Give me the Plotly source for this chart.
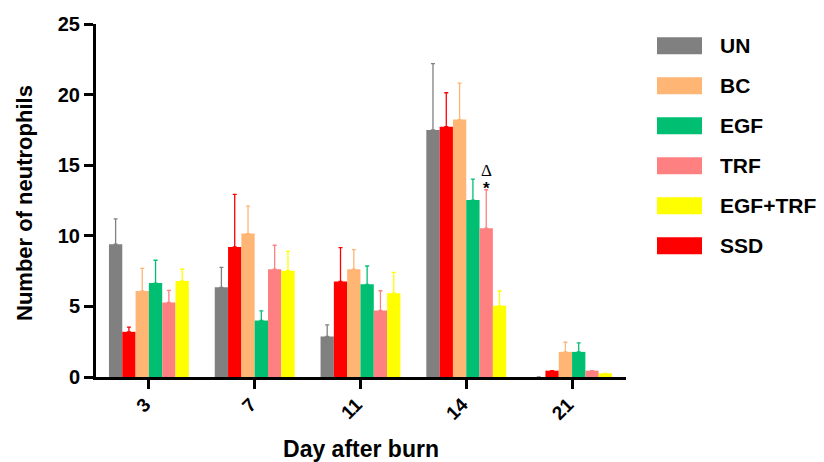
import plotly.graph_objects as go

days = ["3", "7", "11", "14", "21"]
series_names = ["UN", "SSD", "BC", "EGF", "TRF", "EGF+TRF"]
legend_order = ["UN", "BC", "EGF", "TRF", "EGF+TRF", "SSD"]

un = [9.40, 6.35, 2.87, 17.50, 0.0]
ssd = [3.20, 9.21, 6.77, 17.73, 0.45]
bc = [6.09, 10.16, 7.63, 18.23, 1.78]
egf = [6.65, 4.00, 6.56, 12.53, 1.78]
trf = [5.28, 7.63, 4.71, 10.54, 0.45]
egf_trf = [6.80, 7.53, 5.94, 5.04, 0.26]

un_err = [1.80, 1.42, 0.82, 4.70, None]
ssd_err = [0.33, 3.72, 2.39, 2.40, None]
bc_err = [1.61, 1.94, 1.39, 2.58, 0.68]
egf_err = [1.62, 0.69, 1.30, 1.49, 0.63]
trf_err = [0.86, 1.70, 1.40, 2.72, None]
egf_trf_err = [0.83, 1.37, 1.47, 1.05, None]

values = [un, ssd, bc, egf, trf, egf_trf]
errors = [un_err, ssd_err, bc_err, egf_err, trf_err, egf_trf_err]
colors = {"UN": "#808080", "SSD": "#FF0000", "BC": "#FFB574",
          "EGF": "#00BF72", "TRF": "#FF8080", "EGF+TRF": "#FFFF00"}

FONT = "Liberation Sans, Arial, sans-serif"
OFF = 8  # default page body margin
W, H = 824 - OFF, 462 - OFF
# plot area in page pixels: x 96..626, y 24..377
ML = 96 - OFF
MT = 24 - OFF
MR = W - (626 - OFF)
MB = H - (377 - OFF)
PW, PH = W - ML - MR, H - MT - MB
BARGAP = 0.245

fig = go.Figure()
for name, vals, errs in zip(series_names, values, errors):
    fig.add_trace(go.Bar(
        x=days, y=vals, name=name,
        marker=dict(color=colors[name], line=dict(width=0)),
        error_y=dict(type="data", array=errs, arrayminus=[0] * len(errs),
                     symmetric=False, color=colors[name], thickness=1.3, width=2),
        showlegend=False,
    ))

# custom legend (positions given in page pixels)
def px2x(px):
    return (px - OFF - ML) / PW

def py2y(py):
    return (H - MB - (py - OFF)) / PH

shapes = []
annotations = []
row0, step = 45.7, 40.0
for i, name in enumerate(legend_order):
    cy = row0 + i * step
    shapes.append(dict(type="rect", xref="paper", yref="paper",
                       x0=px2x(657), x1=px2x(702), y0=py2y(cy + 8.5), y1=py2y(cy - 8.5),
                       fillcolor=colors[name], line=dict(width=0)))
    annotations.append(dict(xref="paper", yref="paper", x=px2x(718), y=py2y(cy),
                            xanchor="left", yanchor="middle", showarrow=False,
                            text="<b>%s</b>" % name,
                            font=dict(family=FONT, size=21, color="black")))

# y-axis title
annotations.append(dict(xref="paper", yref="paper", x=px2x(25), y=py2y(203),
                        xanchor="center", yanchor="middle", showarrow=False,
                        textangle=-90, text="<b>Number of neutrophils</b>",
                        font=dict(family=FONT, size=22, color="black")))

# significance marks above TRF at day 14
group_w = 1 - BARGAP
trf_idx = series_names.index("TRF")
xoff = (trf_idx - 2.5) * group_w / len(series_names)
gi = days.index("14")
top = trf[gi] + trf_err[gi]
annotations.append(dict(x=gi + xoff, y=top, xref="x", yref="y", text="<b>*</b>",
                        showarrow=False, yanchor="bottom", yshift=-10,
                        font=dict(family=FONT, size=17, color="black")))
annotations.append(dict(x=gi + xoff, y=top, xref="x", yref="y", text="Δ",
                        showarrow=False, yanchor="bottom", yshift=8,
                        font=dict(family="Liberation Serif, serif", size=17, color="black")))

fig.update_layout(
    width=W, height=H, barmode="group", bargap=BARGAP, bargroupgap=0,
    margin=dict(l=ML, r=MR, t=MT, b=MB),
    plot_bgcolor="white", paper_bgcolor="white",
    shapes=shapes, annotations=annotations,
    font=dict(family=FONT, color="black"),
    xaxis=dict(type="category", range=[-0.5, 4.51], showline=True, linecolor="black",
               linewidth=3, ticks="outside", ticklen=9, tickwidth=3, tickcolor="black",
               tickangle=-45, showgrid=False, zeroline=False, automargin=False,
               ticklabelstandoff=-3, ticklabelshift=-4,
               tickfont=dict(family=FONT, size=19, color="black", weight="bold"),
               title=dict(text="<b>Day after burn</b>", standoff=26,
                          font=dict(family=FONT, size=23, color="black"))),
    yaxis=dict(range=[0, 25], dtick=5, showline=True, linecolor="black", linewidth=3,
               ticks="outside", ticklen=9, tickwidth=2.5, tickcolor="black",
               showgrid=False, zeroline=False, automargin=False,
               tickfont=dict(family=FONT, size=20, color="black", weight="bold")),
)

fig.write_html("out.html")
